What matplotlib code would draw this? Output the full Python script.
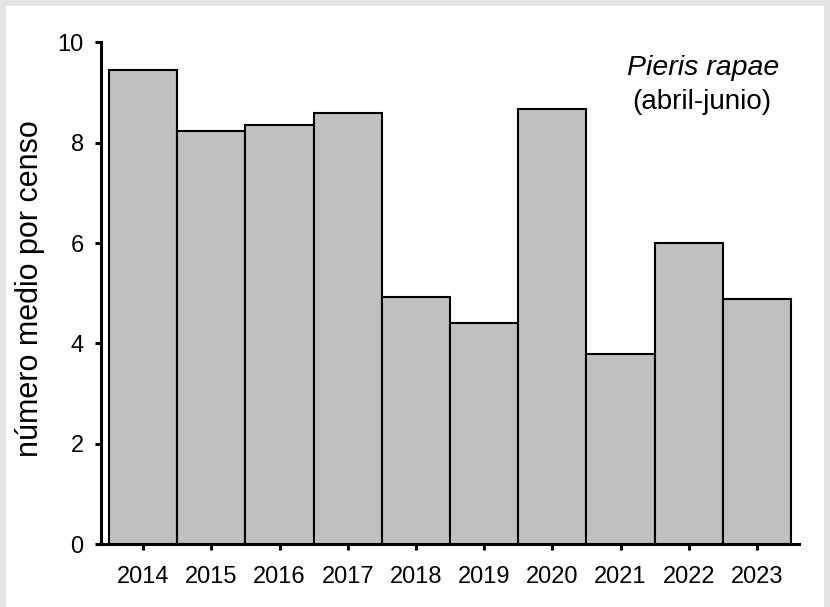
import matplotlib
matplotlib.use("Agg")
import matplotlib.pyplot as plt
from matplotlib.patches import Rectangle

years = ["2014", "2015", "2016", "2017", "2018", "2019", "2020", "2021", "2022", "2023"]
values = [9.45, 8.23, 8.36, 8.59, 4.92, 4.41, 8.67, 3.80, 6.00, 4.89]
yticks = [0, 2, 4, 6, 8, 10]

plt.rcParams['font.family'] = ['Liberation Sans', 'DejaVu Sans']

W, H = 830, 607
fig = plt.figure(figsize=(W / 100, H / 100), dpi=100, facecolor='#e6e4e2')
bg = Rectangle((6 / W, 0), (824 - 6) / W, 601 / H, transform=fig.transFigure,
               facecolor='white', edgecolor='none', zorder=-5)
fig.add_artist(bg)

ax = fig.add_axes([101 / W, (H - 544.3) / H, (799 - 101) / W, (544.3 - 42.3) / H])
ax.set_zorder(2)
ax.set_facecolor('none')
x = list(range(len(years)))
ax.bar(x, values, width=1.0, color='#c0c0c0', edgecolor='black', linewidth=1.5, zorder=2)

ax.set_xlim(-0.5 - 8 / 68.2, 9.5 + 8 / 68.2)
ax.set_ylim(0, 10)
ax.set_xticks(x)
ax.set_xticklabels(years)
ax.set_yticks(yticks)
ax.set_yticklabels([str(v) for v in yticks])

for s in ['top', 'right']:
    ax.spines[s].set_visible(False)
for s in ['left', 'bottom']:
    ax.spines[s].set_linewidth(2.2)
    ax.spines[s].set_zorder(3)

ax.tick_params(axis='both', direction='out', length=4.5, width=2.2, labelsize=17)
ax.tick_params(axis='x', pad=11)
ax.tick_params(axis='y', pad=8)

fig.text(30 / W, (H - 288.5) / H, 'número medio por censo', rotation=90,
         ha='center', va='center', fontsize=22, zorder=3)

fig.text(703 / W, (H - 75) / H, 'Pieris rapae', style='italic', ha='center',
         va='baseline', fontsize=20.5, zorder=3)
fig.text(702 / W, (H - 109) / H, '(abril-junio)', ha='center', va='baseline', fontsize=20, zorder=3)

fig.savefig('out.png', dpi=100, facecolor=fig.get_facecolor())
